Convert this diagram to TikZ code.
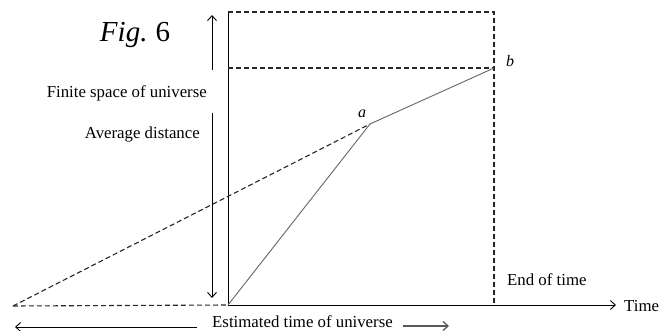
\documentclass[tikz,border=0pt]{standalone}
\usepackage{fontspec}
\setmainfont{Liberation Serif}
\usetikzlibrary{arrows.meta}
\begin{document}
\begin{tikzpicture}[x=1pt,y=-1pt,
  lbl/.style={inner sep=0pt,font=\fontsize{16.8}{18}\selectfont},
  solidax/.style={line width=0.9pt,black},
  dsh/.style={line width=1.1pt,black!85,dash pattern=on 5pt off 3pt},
  gry/.style={line width=0.9pt,black!60},
  arr/.style={-{Straight Barb[length=5pt,width=9pt]},line width=0.9pt}]
\useasboundingbox (0,0) rectangle (662,331);
% key points
\coordinate (O) at (228,305);
\coordinate (top) at (228,12);
\coordinate (tr) at (494,12);
\coordinate (b) at (494,68);
\coordinate (ml) at (228,68);
\coordinate (e) at (494,305);
\coordinate (a) at (370,124);
\coordinate (L) at (13,306);
\coordinate (tend) at (616,305);
\coordinate (upS) at (212,70);
\coordinate (upT) at (212,15);
\coordinate (dnS) at (212,113);
\coordinate (dnT) at (212,298);
\coordinate (lS) at (197,327);
\coordinate (lT) at (15,327);
\coordinate (rS) at (403,326);
\coordinate (rT) at (449,326);
% frame
\draw[solidax] (O |- 0,306) -- (top);
\draw[solidax,-{Straight Barb[length=5pt,width=9pt]}] (O) -- (tend);
\draw[dsh] (top) -- (tr) -- (e);
\draw[dsh] (ml) -- (b);
\draw[dsh] (L) -- (O);
\draw[dsh] (L) -- (a);
\draw[gry] (O) -- (a) -- (b);
% arrows
\draw[arr] (upS) -- (upT);
\draw[arr] (dnS) -- (dnT);
\draw[arr] (lS) -- (lT);
\draw[arr,black!65,line width=1.3pt] (rS) -- (rT);
% labels
\node[inner sep=0pt,anchor=base,font=\fontsize{29}{32}\selectfont] (fig) at (135,42) {\textit{Fig.}\hspace{8pt}6};
\node[lbl,anchor=base east] (fin) at (207,98) {Finite space of universe};
\node[lbl,anchor=base east] (avg) at (200,139) {Average distance};
\node[lbl,anchor=base west] (eot) at (507,286) {End of time};
\node[lbl,anchor=base west] (tim) at (624,312) {Time};
\node[lbl,anchor=base west] (est) at (212,328) {Estimated time of universe};
\node[lbl,font=\fontsize{16}{18}\selectfont\itshape] (al) at (362,114) {a};
\node[lbl,font=\fontsize{16}{18}\selectfont\itshape] (bl) at (510,61) {b};
\end{tikzpicture}
\end{document}
